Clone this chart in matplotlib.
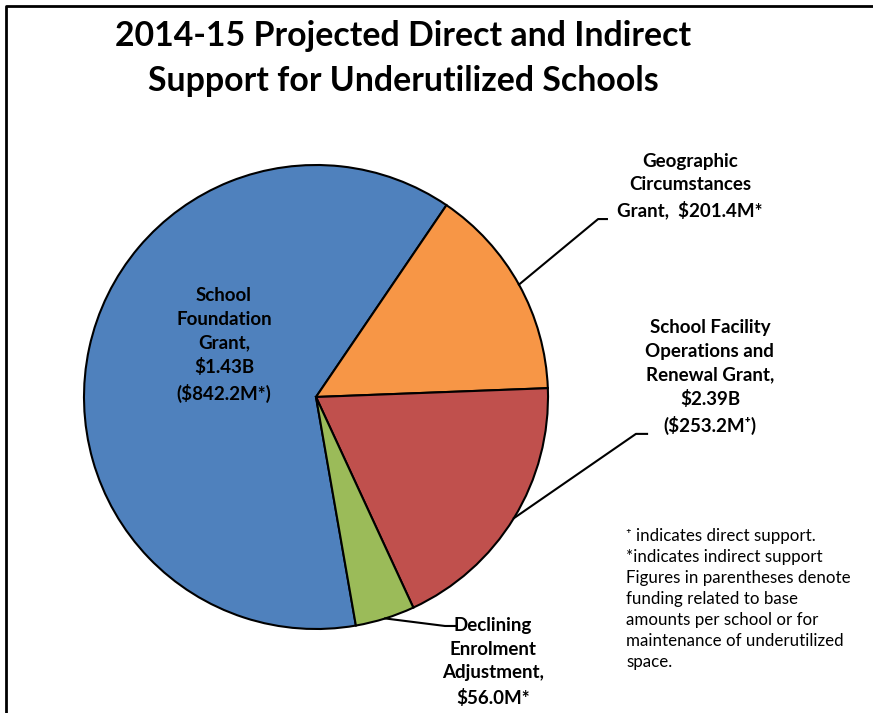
import numpy as np
import matplotlib.pyplot as plt
from matplotlib.lines import Line2D

plt.rcParams['font.family'] = ['Lato', 'DejaVu Sans']

labels = ["School\nFoundation\nGrant,\n$1.43B\n($842.2M*)",
          "Geographic\nCircumstances\nGrant,  $201.4M*",
          "School Facility\nOperations and\nRenewal Grant,\n$2.39B\n($253.2M\u207a)",
          "Declining\nEnrolment\nAdjustment,\n$56.0M*"]
values = [842.2, 201.4, 253.2, 56.0]
colors = ["#4F81BD", "#F79646", "#C0504D", "#9BBB59"]

title = "2014-15 Projected Direct and Indirect\nSupport for Underutilized Schools"
note = ("\u207a indicates direct support.\n*indicates indirect support\n"
        "Figures in parentheses denote\nfunding related to base\n"
        "amounts per school or for\nmaintenance of underutilized\nspace.")

W, H = 873, 713
fig = plt.figure(figsize=(W / 100, H / 100), dpi=100)

cx, cy, r = 316, 397, 232
ax = fig.add_axes([(cx - r) / W, (H - cy - r) / H, 2 * r / W, 2 * r / H])
wedges, _ = ax.pie(values, colors=colors, startangle=279.9, counterclock=False,
                   radius=1, wedgeprops=dict(edgecolor='black', linewidth=1.5))
ax.set_xlim(-1, 1)
ax.set_ylim(-1, 1)
ax.set_axis_off()

# label layout (data units, radius = 1)
label_pos = [(-0.397, 0.224), (1.612, 0.909), (1.698, 0.086), (0.763, -1.142)]
elbows = [None, (1.216, 0.767), (1.379, -0.159), (0.556, -0.987)]
tails = [None, 1.254, 1.427, 0.603]

for i, w in enumerate(wedges):
    tx, ty = label_pos[i]
    ax.text(tx, ty, labels[i], ha='center', va='center', fontsize=13.5,
            fontweight='bold', linespacing=1.47, clip_on=False)
    if elbows[i] is None:
        continue
    mid = np.deg2rad((w.theta1 + w.theta2) / 2)
    ex, ey = np.cos(mid), np.sin(mid)
    bx, by = elbows[i]
    ax.add_line(Line2D([ex, bx, tails[i]], [ey, by, by], color='black',
                       linewidth=1.5, clip_on=False))

fig.text(403 / W, 1 - 58.5 / H, title, ha='center', va='center',
         fontsize=24.4, fontweight='bold', linespacing=1.48)

fig.text(626 / W, 1 - 528 / H, note, ha='left', va='top', fontsize=12.2,
         linespacing=1.39)

# chart frame (only left and top edges visible in crop)
fig.add_artist(Line2D([6 / W, 6 / W, 1.0], [0.0, 1 - 6 / H, 1 - 6 / H],
                      transform=fig.transFigure, color='black', linewidth=2))

fig.savefig('out.png', dpi=100)
